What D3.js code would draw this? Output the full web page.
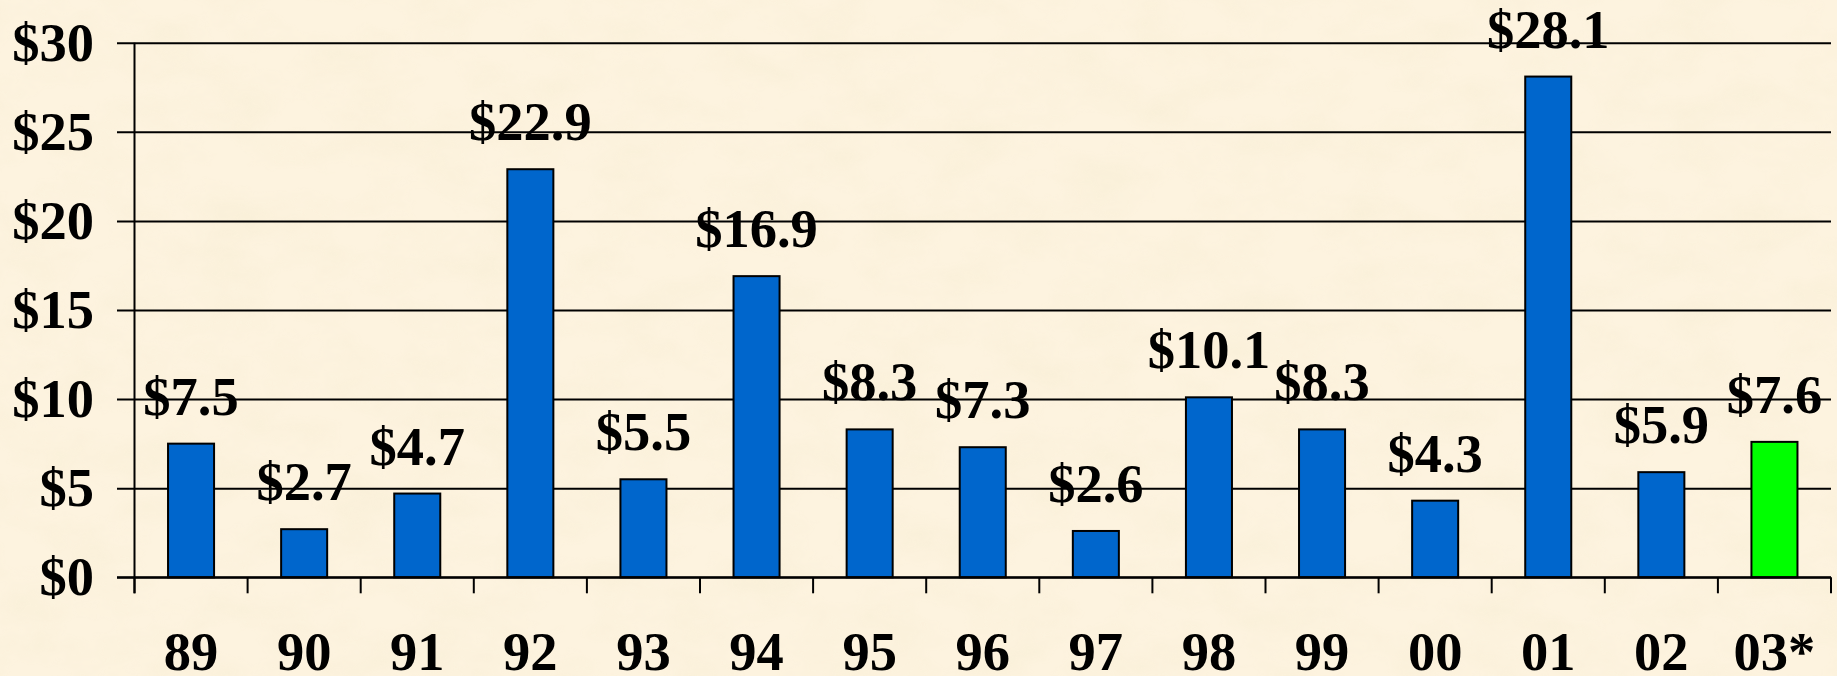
<!DOCTYPE html>
<html>
<head>
<meta charset="utf-8">
<script src="https://cdn.jsdelivr.net/npm/d3@7"></script>
<style>
  html, body { margin: 0; padding: 0; background: #fbf1da; }
  svg { display: block; }
  text { font-family: "Liberation Serif", "Times New Roman", serif; font-weight: bold; fill: #000; }
</style>
</head>
<body>
<svg id="chart" width="1837" height="676"></svg>
<script>
const categories = ["89","90","91","92","93","94","95","96","97","98","99","00","01","02","03*"];
const values = [7.5, 2.7, 4.7, 22.9, 5.5, 16.9, 8.3, 7.3, 2.6, 10.1, 8.3, 4.3, 28.1, 5.9, 7.6];
const valueLabels = ["$7.5","$2.7","$4.7","$22.9","$5.5","$16.9","$8.3","$7.3","$2.6","$10.1","$8.3","$4.3","$28.1","$5.9","$7.6"];
const highlighted = ["03*"];
const yTicks = [0, 5, 10, 15, 20, 25, 30];
const yTickLabels = ["$0","$5","$10","$15","$20","$25","$30"];

const W = 1837, H = 676;
const FS = 54.5;
const svg = d3.select("#chart");

// parchment background texture
const defs = svg.append("defs");
const f = defs.append("filter").attr("id", "parch").attr("x", 0).attr("y", 0).attr("width", "100%").attr("height", "100%");
f.append("feTurbulence").attr("type", "fractalNoise").attr("baseFrequency", "0.015 0.025").attr("numOctaves", 4).attr("seed", 3).attr("result", "n");
f.append("feColorMatrix").attr("in", "n").attr("type", "matrix")
  .attr("values", "0 0 0 0 0.93  0 0 0 0 0.85  0 0 0 0 0.66  0 0 0 -1.6 1.0");
svg.append("rect").attr("width", W).attr("height", H).attr("fill", "#fdf3df");
svg.append("rect").attr("width", W).attr("height", H).attr("filter", "url(#parch)").attr("opacity", 0.6);

const x0 = 134.5, x1 = 1831, yBase = 577.3, yTop = 42.7;
const x = d3.scaleBand().domain(categories).range([x0, x1]).paddingInner(0.593).paddingOuter(0.2965);
const y = d3.scaleLinear().domain([0, 30]).range([yBase, yTop]);

// gridlines with outward ticks
const yAxis = d3.axisLeft(y).tickValues(yTicks).tickSize(-(x1 - x0)).tickFormat("");
const gy = svg.append("g").attr("transform", `translate(${x0},0)`).call(yAxis);
gy.select(".domain").remove();
gy.selectAll(".tick line").attr("x1", -17.5).attr("stroke", "#000").attr("stroke-width", 2);

// y tick labels
svg.append("g").selectAll("text").data(yTicks).join("text")
  .attr("x", 94).attr("y", d => y(d) + 18)
  .attr("text-anchor", "end").attr("font-size", FS)
  .text((d, i) => yTickLabels[i]);

// y axis line
svg.append("line").attr("x1", x0).attr("x2", x0).attr("y1", yTop).attr("y2", yBase + 16)
  .attr("stroke", "#000").attr("stroke-width", 2);

// bars
svg.append("g").selectAll("rect").data(values).join("rect")
  .attr("x", (d, i) => x(categories[i]))
  .attr("width", x.bandwidth())
  .attr("y", d => y(d))
  .attr("height", d => yBase - y(d))
  .attr("fill", (d, i) => highlighted.includes(categories[i]) ? "#00ff00" : "#0066cc")
  .attr("stroke", "#000").attr("stroke-width", 2);

// x axis line + boundary ticks
svg.append("line").attr("x1", x0 - 17.5).attr("x2", x1).attr("y1", yBase).attr("y2", yBase)
  .attr("stroke", "#000").attr("stroke-width", 2);
const bounds = categories.map(c => x(c) - x.step() * x.paddingOuter()).concat([x1]);
svg.append("g").selectAll("line").data(bounds).join("line")
  .attr("x1", d => d).attr("x2", d => d).attr("y1", yBase).attr("y2", yBase + 16)
  .attr("stroke", "#000").attr("stroke-width", 2);

// x labels
svg.append("g").selectAll("text").data(categories).join("text")
  .attr("x", d => x(d) + x.bandwidth() / 2).attr("y", 670)
  .attr("text-anchor", "middle").attr("font-size", FS)
  .text(d => d);

// value labels
svg.append("g").selectAll("text").data(values).join("text")
  .attr("x", (d, i) => x(categories[i]) + x.bandwidth() / 2)
  .attr("y", d => y(d) - 29)
  .attr("text-anchor", "middle").attr("font-size", FS)
  .text((d, i) => valueLabels[i]);
</script>
</body>
</html>
